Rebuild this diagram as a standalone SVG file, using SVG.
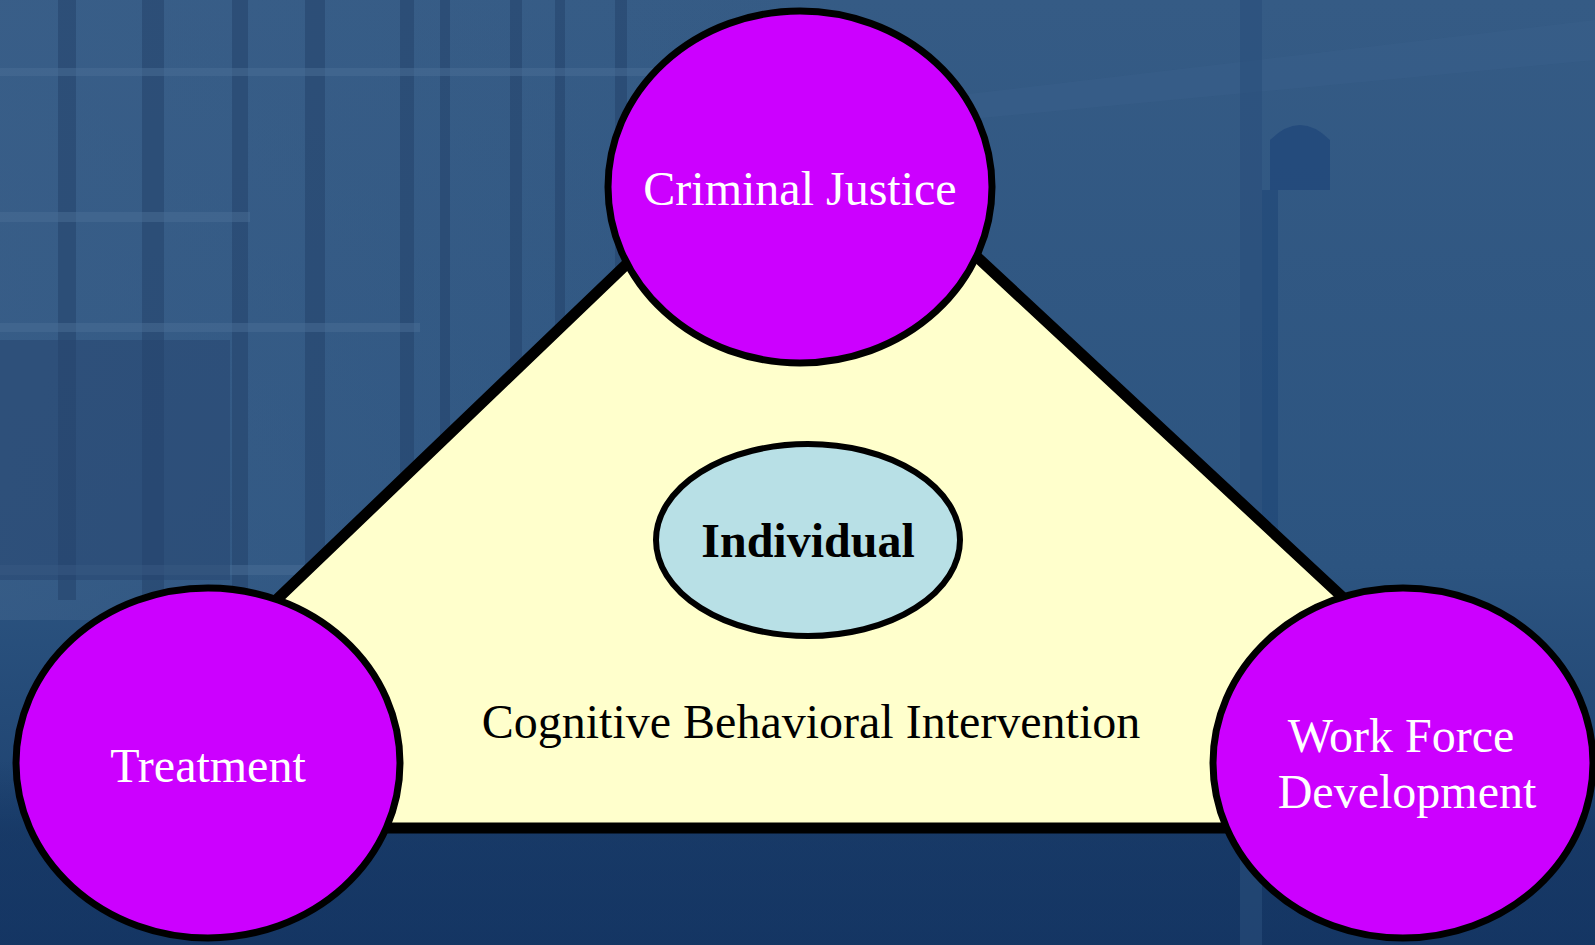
<svg xmlns="http://www.w3.org/2000/svg" width="1595" height="945" viewBox="0 0 1595 945">
<defs>
<linearGradient id="bg" x1="0" y1="0" x2="0" y2="1">
<stop offset="0" stop-color="#355b85"/>
<stop offset="0.6" stop-color="#2c5480"/>
<stop offset="1" stop-color="#183b6a"/>
</linearGradient>
<linearGradient id="bgr" x1="0" y1="0" x2="1" y2="0">
<stop offset="0" stop-color="#3a5f89" stop-opacity="0.7"/>
<stop offset="1" stop-color="#3a5f89" stop-opacity="0"/>
</linearGradient>
<linearGradient id="bot" x1="0" y1="0" x2="0" y2="1">
<stop offset="0" stop-color="#12325f" stop-opacity="0"/>
<stop offset="0.4" stop-color="#12325f" stop-opacity="0.55"/>
<stop offset="1" stop-color="#12325f" stop-opacity="0.6"/>
</linearGradient>
<style>
.hub{fill:#cc00ff;stroke:#000;stroke-width:7}
.lbl{font-family:"Liberation Serif","Times New Roman",serif;font-size:48px;text-anchor:middle}
.w{fill:#ffffff}
.spine{fill:#213f68;opacity:0.5}
.shelf{fill:#4a6d95;opacity:0.5}
</style>
</defs>
<g id="background">
<rect x="0" y="0" width="1595" height="945" fill="url(#bg)"/>
<rect x="0" y="0" width="840" height="620" fill="url(#bgr)"/>
<rect class="spine" x="58" y="0" width="18" height="600"/>
<rect class="spine" x="142" y="0" width="22" height="600"/>
<rect class="spine" x="232" y="0" width="16" height="600"/>
<rect class="spine" x="305" y="0" width="20" height="600"/>
<rect class="spine" x="400" y="0" width="14" height="600"/>
<rect class="spine" x="440" y="0" width="10" height="600"/>
<rect class="spine" x="510" y="0" width="12" height="600"/>
<rect class="spine" x="555" y="0" width="10" height="600"/>
<rect class="spine" x="615" y="0" width="12" height="600"/>
<rect class="shelf" x="0" y="68" width="840" height="8"/>
<rect class="shelf" x="0" y="212" width="250" height="10"/>
<rect class="shelf" x="0" y="323" width="420" height="9"/>
<rect class="shelf" x="0" y="565" width="430" height="10"/>
<rect x="0" y="340" width="230" height="240" fill="#25446d" opacity="0.5"/>
<rect x="0" y="760" width="1595" height="185" fill="url(#bot)"/>
<polygon points="960,95 1595,20 1595,60 960,120" fill="#3c628d" opacity="0.35"/>
<rect x="1240" y="0" width="22" height="945" fill="#2a4f7c" opacity="0.6"/>
<path d="M1270,140 Q1300,110 1330,140 L1330,190 L1270,190 Z" fill="#21477a" opacity="0.8"/>
<rect x="1262" y="190" width="16" height="620" fill="#1e4677" opacity="0.6"/>
</g>
<g id="connectors">
<polygon id="triangle" points="803,95 1453,700 1453,828 172,828 172,700" fill="#ffffcc" stroke="#000" stroke-width="11" stroke-linejoin="miter"/>
</g>
<g id="node-criminal-justice">
<ellipse class="hub" cx="800" cy="187" rx="192" ry="176"/>
<text class="lbl w" x="800" y="205">Criminal Justice</text>
</g>
<g id="node-treatment">
<ellipse class="hub" cx="208" cy="763" rx="192" ry="175"/>
<text class="lbl w" x="208" y="782">Treatment</text>
</g>
<g id="node-work-force">
<ellipse class="hub" cx="1403" cy="763" rx="190" ry="175"/>
<text class="lbl w" x="1401" y="752">Work Force</text>
<text class="lbl w" x="1407" y="808">Development</text>
</g>
<g id="node-individual">
<ellipse cx="808" cy="540" rx="152" ry="96" fill="#b8e0e6" stroke="#000" stroke-width="6"/>
<text class="lbl" x="808" y="557" font-weight="bold" fill="#000">Individual</text>
</g>
<g id="label-cbi">
<text class="lbl" x="811" y="738" fill="#000">Cognitive Behavioral Intervention</text>
</g>
</svg>
